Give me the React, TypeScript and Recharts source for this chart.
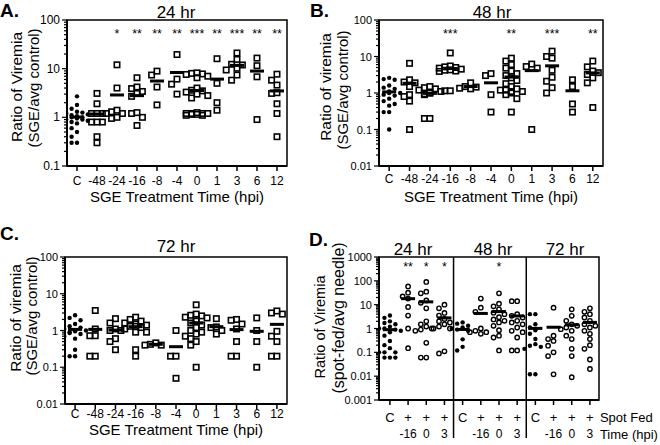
import React from 'react'
import { ScatterChart, Scatter, XAxis, YAxis, ReferenceArea, ReferenceLine } from 'recharts'

const FONT = "'Liberation Sans', Arial, Helvetica, sans-serif"

// x categories
const hpiLabels = ['C', '-48', '-24', '-16', '-8', '-4', '0', '1', '3', '6', '12']
const spotFedRow = ['C', '+', '+', '+', 'C', '+', '+', '+', 'C', '+', '+', '+']
const spotTimeRow = ['', '-16', '0', '3', '', '-16', '0', '3', '', '-16', '0', '3']

// y ticks (decades)
const decades24 = [0.1, 1, 10, 100]
const decades48 = [0.01, 0.1, 1, 10, 100]
const decadesSpot = [0.001, 0.01, 0.1, 1, 10, 100, 1000]

// A. 24 hr  (one list per hpi category)
const viremia24 = [
  [2.7, 1.8, 1.5, 1.3, 1.25, 1.2, 1.15, 1.1, 1.05, 1.0, 1.0, 0.95, 0.9, 0.9, 0.85, 0.8, 0.75, 0.6, 0.5, 0.4, 0.3, 0.3],
  [3.1, 1.9, 1.2, 1.2, 1.2, 0.8, 0.8, 0.8, 0.4, 0.3],
  [12, 4.0, 1.4, 1.3, 1.2, 1.2, 1.0, 0.95],
  [6.5, 4.2, 3.9, 3.4, 3.1, 2.7, 1.25, 1.2, 1.0, 0.68],
  [8.9, 7.4, 4.2, 1.8],
  [19.5, 6.1, 4.8, 3.0],
  [8.2, 8.0, 7.8, 7.6, 7.0, 6.5, 4.0, 3.6, 3.5, 3.3, 3.0, 2.8, 2.5, 1.25, 1.2, 1.2, 1.2, 1.2, 1.15, 1.15, 1.1, 1.1],
  [16, 5.0, 2.0, 1.4],
  [21, 15.5, 12.3, 11.9, 10.2, 9.4, 7.4, 5.8],
  [16.5, 11.5, 6.8, 0.9],
  [7.7, 5.8, 4.6, 3.2, 3.1, 1.9, 1.2, 0.4],
]
const stars24 = ['', '', '*', '**', '**', '**', '***', '**', '***', '**', '**']

// B. 48 hr
const viremia48 = [
  [2.6, 2.4, 2.3, 1.6, 1.4, 1.3, 1.2, 1.1, 1.0, 1.0, 0.9, 0.85, 0.8, 0.7, 0.6, 0.5, 0.45, 0.3, 0.3, 0.1],
  [6.5, 2.3, 2.0, 1.9, 1.5, 0.9, 0.8, 0.6, 0.1],
  [1.5, 1.4, 1.3, 1.2, 1.1, 1.0, 1.0, 0.95, 0.9, 0.2, 0.2],
  [12.5, 5.5, 5.2, 5.0, 4.8, 4.5, 4.3, 4.2, 4.0, 3.9, 1.15, 1.15],
  [1.9, 1.5, 1.45, 1.35, 1.3],
  [3.4, 3.0, 0.9, 0.3],
  [9.0, 7.5, 6.0, 4.8, 4.0, 3.4, 3.0, 2.6, 2.2, 1.8, 1.5, 1.3, 1.2, 1.2, 1.1, 1.1, 1.0, 0.9, 0.7, 0.3],
  [6.2, 5.3, 4.8, 0.1],
  [14, 10, 9, 4.2, 2.7, 2.1, 1.4, 1.0],
  [2.3, 1.5, 0.5, 0.3],
  [7.5, 5.2, 4.0, 3.6, 3.2, 2.6, 1.9, 0.4],
]
const stars48 = ['', '', '', '***', '', '', '**', '', '***', '', '**']

// C. 72 hr
const viremia72 = [
  [2.6, 2.2, 1.9, 1.5, 1.3, 1.2, 1.1, 1.0, 1.0, 0.95, 0.9, 0.85, 0.8, 0.7, 0.6, 0.3, 0.2, 0.2],
  [3.5, 1.1, 0.72, 0.72, 0.2, 0.2],
  [2.1, 1.6, 1.1, 1.0, 1.0, 0.6, 0.5, 0.3],
  [2.3, 2.0, 1.8, 1.6, 1.5, 1.4, 1.3, 1.3, 1.2, 1.1, 0.9, 0.9, 0.3, 0.2],
  [0.46, 0.42, 0.4, 0.4],
  [1.0, 0.2, 0.2, 0.05],
  [5.0, 2.8, 2.6, 2.5, 2.3, 2.2, 2.0, 1.8, 1.6, 1.4, 1.2, 1.0, 0.9, 0.8, 0.7, 0.6, 0.5, 0.4, 0.1],
  [2.1, 1.25, 1.2, 1.0, 0.8],
  [2.0, 1.9, 1.5, 1.1, 0.5, 0.2, 0.2],
  [2.2, 1.0, 0.5, 0.1],
  [3.4, 3.0, 2.8, 0.95, 0.7, 0.5, 0.2, 0.2],
]

// D. spot fed vs needle, 24 / 48 / 72 hr
const spotFed = [
  [3.5, 2.8, 2.0, 1.7, 1.5, 1.2, 1.0, 1.0, 0.9, 0.8, 0.7, 0.5, 0.3, 0.2, 0.15, 0.1, 0.1, 0.1, 0.06, 0.06, 0.06],
  [58, 32, 22, 18, 8, 3.5, 1.0, 0.15],
  [90, 35, 30, 15, 12, 7, 2.0, 1.5, 1.2, 1.0, 0.9, 0.8, 0.25, 0.06, 0.06],
  [10, 7, 4.5, 3.5, 2.5, 2.0, 1.8, 1.5, 1.2, 1.0, 1.0, 0.11, 0.09],
  [1.8, 1.6, 1.3, 1.1, 1.0, 0.9, 0.8, 0.35, 0.17, 0.12],
  [18, 7.5, 5, 1.0, 0.8, 0.7, 0.7, 0.6],
  [30, 11, 8.5, 6.4, 4.6, 4, 3, 2.4, 2.1, 1.8, 1.3, 0.85, 0.5, 0.42, 0.12],
  [14, 14, 4, 3.4, 2.9, 2.1, 1.8, 1.5, 1.1, 0.8, 0.7, 0.42, 0.12, 0.12],
  [4, 4, 1.5, 1.1, 0.85, 0.6, 0.36, 0.22, 0.19, 0.17, 0.14, 0.012, 0.012],
  [7.5, 0.5, 0.36, 0.3, 0.19, 0.1, 0.07, 0.012],
  [6.4, 3.4, 2.1, 1.5, 1.3, 1.1, 0.94, 0.8, 0.5, 0.36, 0.14, 0.07, 0.009],
  [7, 5, 4, 2.9, 2.1, 1.5, 1.3, 1.1, 0.8, 0.6, 0.36, 0.2, 0.14, 0.05, 0.02],
]
const starsSpot = ['', '**', '*', '*', '', '', '*', '', '', '', '', '']

const withMinors = (majors: number[]) => {
  const out: number[] = []
  majors.forEach((m, i) => {
    out.push(m)
    if (i < majors.length - 1) for (let k = 2; k <= 9; k++) out.push(m * k)
  })
  return out
}

// GraphPad-like horizontal spreading of points with similar values
const SLOTS = [0, -1, 1, -2, 2]
function spread(groups: number[][], controls: number[], thr: number, step: number) {
  const pts: { x: number; y: number; filled: boolean }[] = []
  groups.forEach((vals, gi) => {
    const placed: { lv: number; slot: number }[] = []
    vals.forEach((v) => {
      const lv = Math.log10(v)
      const near = placed.filter((p) => Math.abs(p.lv - lv) < thr)
      const counts = SLOTS.map((s) => near.filter((p) => p.slot === s).length)
      let best = 0
      for (let k = 1; k < SLOTS.length; k++) if (counts[k] < counts[best]) best = k
      placed.push({ lv, slot: SLOTS[best] })
      pts.push({ x: gi + SLOTS[best] * step, y: v, filled: controls.includes(gi) })
    })
  })
  return pts
}

const mean = (a: number[]) => a.reduce((s, v) => s + v, 0) / a.length

const LogTick = (props: any) => {
  const { x, y, payload, fontSize } = props
  const v = payload.value
  const major = Math.abs(Math.log10(v) - Math.round(Math.log10(v))) < 1e-6
  const len = major ? 5 : 3
  return (
    <g>
      <line x1={x - len} x2={x} y1={y} y2={y} stroke="#000" strokeWidth={1.2} />
      {major && (
        <text x={x - len - 2} y={y} textAnchor="end" dominantBaseline="central" fontSize={fontSize} fontFamily={FONT} fill="#000">
          {String(v)}
        </text>
      )}
    </g>
  )
}

type PanelProps = {
  left: number; top: number; width: number; height: number
  margin: { top: number; right: number; bottom: number; left: number }
  yWidth: number; xHeight: number
  xDomain: [number, number]; yDomain: [number, number]
  majors: number[]
  groups: number[][]
  controls: number[]
  openShape: 'square' | 'circle'
  stars?: string[]; starLevel?: number
  tickMargin?: number
  xTick?: any
  xLabel?: string; xLabelOffset?: number
  yTickFont: number
  thr: number; step: number
  dividers?: number[]
}

function Panel(p: PanelProps) {
  const pts = spread(p.groups, p.controls, p.thr, p.step)
  const filled = pts.filter((d) => d.filled)
  const open = pts.filter((d) => !d.filled)
  const means = p.groups.map((g, i) => ({ x: i, y: mean(g) }))
  const starPts = (p.stars || []).map((s, i) => ({ x: i, y: p.starLevel, label: s })).filter((d) => d.label)
  const idx = p.groups.map((_, i) => i)

  return (
    <div style={{ position: 'absolute', left: p.left, top: p.top }}>
      <ScatterChart width={p.width} height={p.height} margin={p.margin}>
        <XAxis
          type="number" dataKey="x" domain={p.xDomain} allowDataOverflow ticks={idx} interval={0}
          tickFormatter={(i: number) => hpiLabels[i]}
          tick={p.xTick || { fontSize: 12, fill: '#000', fontFamily: FONT }}
          tickSize={5} tickMargin={p.tickMargin ?? 4}
          tickLine={{ stroke: '#000', strokeWidth: 1.5 }}
          axisLine={{ stroke: '#000', strokeWidth: 2 }}
          height={p.xHeight}
          label={p.xLabel ? { value: p.xLabel, position: 'insideBottom', offset: p.xLabelOffset, fontSize: 15, fill: '#000', fontFamily: FONT } : undefined}
        />
        <YAxis
          type="number" dataKey="y" scale="log" domain={p.yDomain} allowDataOverflow
          ticks={withMinors(p.majors)} interval={0}
          tick={<LogTick fontSize={p.yTickFont} />}
          tickSize={0} tickMargin={0} tickLine={false}
          axisLine={{ stroke: '#000', strokeWidth: 2 }}
          width={p.yWidth}
        />
        <ReferenceArea x1={p.xDomain[0]} x2={p.xDomain[1]} y1={p.yDomain[0]} y2={p.yDomain[1]} fill="none" stroke="#000" strokeWidth={1.5} fillOpacity={0} />
        {(p.dividers || []).map((d) => (
          <ReferenceLine key={d} x={d} stroke="#000" strokeWidth={1.5} />
        ))}
        <Scatter
          data={open} isAnimationActive={false}
          shape={(s: any) =>
            p.openShape === 'square' ? (
              <rect x={s.cx - 2.7} y={s.cy - 2.7} width={5.4} height={5.4} fill="none" stroke="#000" strokeWidth={1.6} />
            ) : (
              <circle cx={s.cx} cy={s.cy} r={2.2} fill="none" stroke="#000" strokeWidth={1.4} />
            )
          }
        />
        <Scatter data={filled} isAnimationActive={false} shape={(s: any) => <circle cx={s.cx} cy={s.cy} r={2.2} fill="#000" />} />
        <Scatter data={means} isAnimationActive={false} shape={(s: any) => <rect x={s.cx - 7} y={s.cy - 1.5} width={14} height={3} fill="#000" />} />
        {starPts.length > 0 && (
          <Scatter
            data={starPts} isAnimationActive={false}
            shape={(s: any) => (
              <text x={s.cx} y={s.cy + 6} textAnchor="middle" fontSize={12.5} fontFamily={FONT} style={{ fill: '#000' }} stroke="none">
                {s.payload.label}
              </text>
            )}
          />
        )}
      </ScatterChart>
    </div>
  )
}

const SPOT_DOMAIN: [number, number] = [-0.6, 11.5]
const SPOT_PLOT_W = 220
const SPOT_DIVIDERS = [3.5, 7.5]

const SpotTick = (props: any) => {
  const { x, y, payload } = props
  const i = payload.value as number
  const half = SPOT_PLOT_W / (SPOT_DOMAIN[1] - SPOT_DOMAIN[0]) / 2
  const last = spotFedRow.length - 1
  return (
    <g fontFamily={FONT} fill="#000">
      <text x={x} y={y + 12} textAnchor="middle" dominantBaseline="central" fontSize={13}>{spotFedRow[i]}</text>
      <text x={x} y={y + 29} textAnchor="middle" dominantBaseline="central" fontSize={12}>{spotTimeRow[i]}</text>
      {SPOT_DIVIDERS.includes(i + 0.5) && (
        <line x1={x + half} x2={x + half} y1={y - 5} y2={y + 33} stroke="#000" strokeWidth={1.5} />
      )}
      {i === last && (
        <>
          <text x={x + 10} y={y + 12} dominantBaseline="central" fontSize={13}>Spot Fed</text>
          <text x={x + 10} y={y + 29} dominantBaseline="central" fontSize={13}>Time (hpi)</text>
        </>
      )}
    </g>
  )
}

const rot = (x: number, y: number) => `translate(${x},${y}) rotate(-90)`

export default function App() {
  return (
    <div style={{ position: 'absolute', left: 0, top: 0, width: 660, height: 445, overflow: 'hidden', background: '#fff' }}>
      <Panel
        left={0} top={0} width={300} height={210} margin={{ top: 20, right: 13, bottom: 0, left: 0 }}
        yWidth={67} xHeight={44} xDomain={[-0.5, 10.5]} yDomain={[0.1, 100]} majors={decades24}
        groups={viremia24} controls={[0]} openShape="square" stars={stars24} starLevel={56}
        tickMargin={5} xLabel="SGE Treatment Time (hpi)" xLabelOffset={8} yTickFont={12} thr={0.124} step={0.27}
      />
      <Panel
        left={310} top={0} width={300} height={210} margin={{ top: 20, right: 7, bottom: 0, left: 0 }}
        yWidth={69} xHeight={44} xDomain={[-0.5, 10.5]} yDomain={[0.01, 100]} majors={decades48}
        groups={viremia48} controls={[0]} openShape="square" stars={stars48} starLevel={48}
        tickMargin={3} xLabel="SGE Treatment Time (hpi)" xLabelOffset={8} yTickFont={11} thr={0.16} step={0.27}
      />
      <Panel
        left={0} top={237} width={300} height={208} margin={{ top: 20, right: 13, bottom: 0, left: 0 }}
        yWidth={65} xHeight={41} xDomain={[-0.5, 10.5]} yDomain={[0.01, 100]} majors={decades48}
        groups={viremia72} controls={[0]} openShape="square"
        tickMargin={0} xLabel="SGE Treatment Time (hpi)" xLabelOffset={10} yTickFont={11} thr={0.16} step={0.27}
      />
      <Panel
        left={310} top={237} width={350} height={208} margin={{ top: 20, right: 61, bottom: 0, left: 0 }}
        yWidth={69} xHeight={45} xDomain={SPOT_DOMAIN} yDomain={[0.001, 1000]} majors={decadesSpot}
        groups={spotFed} controls={[0, 4, 8]} openShape="circle" stars={starsSpot} starLevel={460}
        tickMargin={0} xTick={<SpotTick />} yTickFont={11} thr={0.21} step={0.3} dividers={SPOT_DIVIDERS}
      />
      <svg width={660} height={445} style={{ position: 'absolute', left: 0, top: 0, pointerEvents: 'none' }} fontFamily={FONT} fill="#000">
        <text x={0} y={17} fontSize={19} fontWeight="bold">A.</text>
        <text x={310} y={17} fontSize={19} fontWeight="bold">B.</text>
        <text x={0} y={240} fontSize={19} fontWeight="bold">C.</text>
        <text x={309} y={246} fontSize={19} fontWeight="bold">D.</text>

        <text x={176} y={18} fontSize={17} textAnchor="middle">24 hr</text>
        <text x={492} y={18} fontSize={17} textAnchor="middle">48 hr</text>
        <text x={176} y={252} fontSize={17} textAnchor="middle">72 hr</text>
        <text x={413} y={255} fontSize={17} textAnchor="middle">24 hr</text>
        <text x={493} y={255} fontSize={17} textAnchor="middle">48 hr</text>
        <text x={565} y={255} fontSize={17} textAnchor="middle">72 hr</text>

        <text transform={rot(16, 87)} fontSize={15.5} textAnchor="middle" dominantBaseline="central">Ratio of Viremia</text>
        <text transform={rot(33, 88)} fontSize={15} textAnchor="middle" dominantBaseline="central">(SGE/avg control)</text>
        <text transform={rot(325, 87)} fontSize={15.5} textAnchor="middle" dominantBaseline="central">Ratio of viremia</text>
        <text transform={rot(342, 90)} fontSize={15} textAnchor="middle" dominantBaseline="central">(SGE/avg control)</text>
        <text transform={rot(15, 318)} fontSize={15.5} textAnchor="middle" dominantBaseline="central">Ratio of viremia</text>
        <text transform={rot(31, 316)} fontSize={15} textAnchor="middle" dominantBaseline="central">(SGE/avg control)</text>
        <text transform={rot(320, 327)} fontSize={14.5} textAnchor="middle" dominantBaseline="central">Ratio of Viremia</text>
        <text transform={rot(338, 318)} fontSize={16} textAnchor="middle" dominantBaseline="central">(spot-fed/avg needle)</text>
      </svg>
    </div>
  )
}
